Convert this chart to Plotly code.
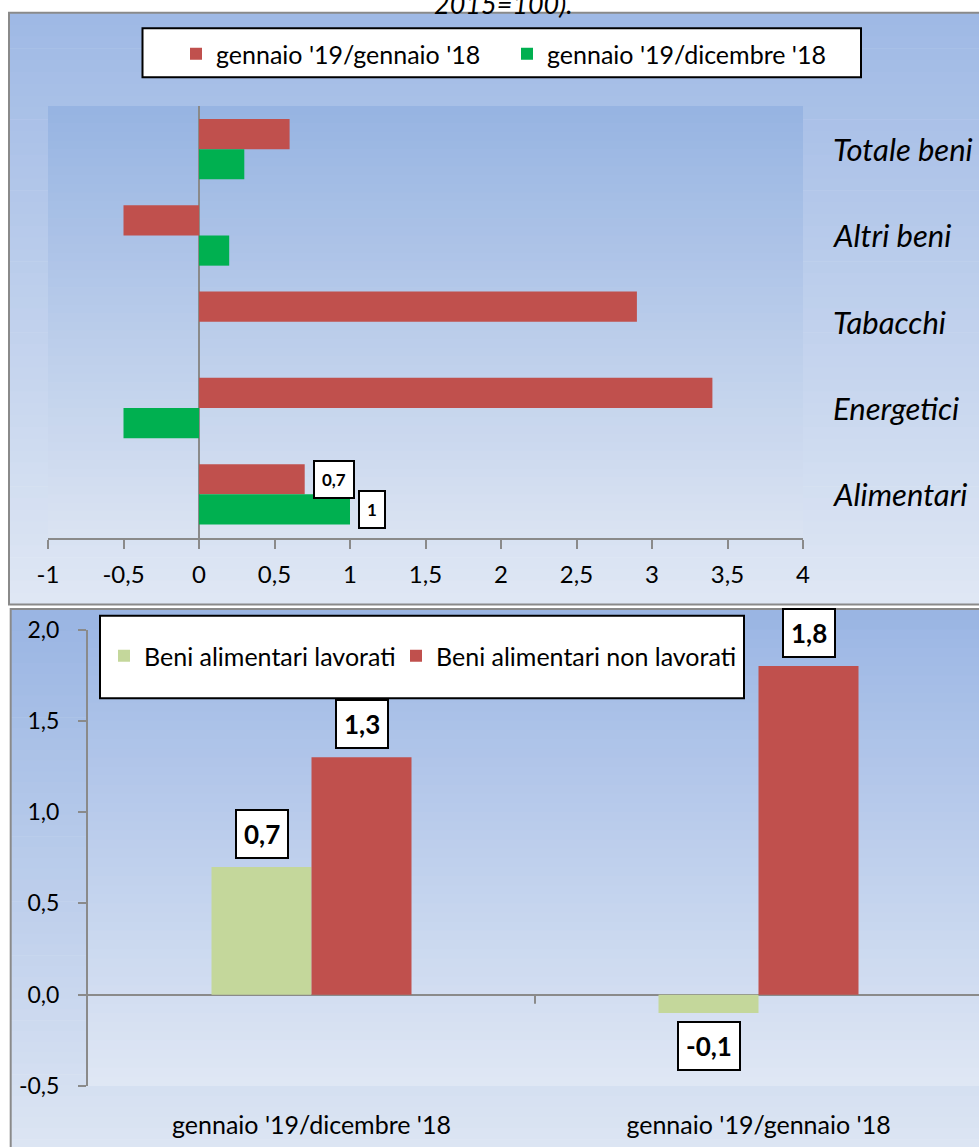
import plotly.graph_objects as go

W, H = 979, 1147
FONT = "Lato"

# ---------------- data ----------------
# Top chart (horizontal bars)
top_categories = ["Totale beni", "Altri beni", "Tabacchi", "Energetici", "Alimentari"]
yoy_values = [0.6, -0.5, 2.9, 3.4, 0.7]      # gennaio '19/gennaio '18
mom_values = [0.3, 0.2, 0.0, -0.5, 1.0]      # gennaio '19/dicembre '18
top_series_names = ["gennaio '19/gennaio '18", "gennaio '19/dicembre '18"]
top_labelled_categories = ["Alimentari"]
top_x_tickvals = [-1, -0.5, 0, 0.5, 1, 1.5, 2, 2.5, 3, 3.5, 4]
top_x_ticktext = ["-1", "-0,5", "0", "0,5", "1", "1,5", "2", "2,5", "3", "3,5", "4"]

# Bottom chart (vertical bars)
bottom_categories = ["gennaio '19/dicembre '18", "gennaio '19/gennaio '18"]
lavorati_values = [0.7, -0.1]
non_lavorati_values = [1.3, 1.8]
bottom_series_names = ["Beni alimentari lavorati", "Beni alimentari non lavorati"]
bottom_y_tickvals = [-0.5, 0.0, 0.5, 1.0, 1.5, 2.0]
bottom_y_ticktext = ["-0,5", "0,0", "0,5", "1,0", "1,5", "2,0"]

title_fragment = "2015=100)."

# ---------------- styles ----------------
RED = "#C0504D"
GREEN = "#00B050"
LIGHT_GREEN = "#C4D79B"
AXIS_GRAY = "#8A8A8A"


def fx(x):
    return x / W


def fy(y):
    return 1 - y / H


def hex2rgb(h):
    h = h.lstrip("#")
    return [int(h[i:i + 2], 16) for i in (0, 2, 4)]


def gradient(x0, x1, y0, y1, c_top, c_bot, n=50):
    a, b = hex2rgb(c_top), hex2rgb(c_bot)
    out = []
    for i in range(n):
        t = i / (n - 1)
        col = "rgb(%d,%d,%d)" % tuple(round(a[k] + (b[k] - a[k]) * t) for k in range(3))
        ya = y0 + (y1 - y0) * i / n
        yb = y0 + (y1 - y0) * (i + 1) / n + 0.6
        out.append(dict(type="rect", xref="paper", yref="paper",
                        x0=fx(x0), x1=fx(x1), y0=fy(min(yb, y1)), y1=fy(ya),
                        fillcolor=col, line_width=0, layer="below"))
    return out


def fmt(v):
    return ("%g" % v).replace(".", ",")


def legend_cfg(left_px, center_px):
    return dict(orientation="h", x=fx(left_px), y=fy(center_px), xanchor="left",
                yanchor="middle", bgcolor="rgba(0,0,0,0)", borderwidth=0,
                font=dict(family=FONT, size=25, color="black"))


fig = go.Figure()

# ---------------- top chart ----------------
fig.add_trace(go.Bar(y=top_categories, x=yoy_values, orientation="h", name=top_series_names[0],
                     marker=dict(color=RED, line_width=0), xaxis="x", yaxis="y", legend="legend"))
fig.add_trace(go.Bar(y=top_categories, x=mom_values, orientation="h", name=top_series_names[1],
                     marker=dict(color=GREEN, line_width=0), xaxis="x", yaxis="y", legend="legend2"))

# ---------------- bottom chart ----------------
BW = 100 / 447.0
fig.add_trace(go.Bar(x=bottom_categories, y=lavorati_values, name=bottom_series_names[0],
                     marker=dict(color=LIGHT_GREEN, line_width=0), width=BW, offset=-BW,
                     xaxis="x2", yaxis="y2", legend="legend3"))
fig.add_trace(go.Bar(x=bottom_categories, y=non_lavorati_values, name=bottom_series_names[1],
                     marker=dict(color=RED, line_width=0), width=BW, offset=0,
                     xaxis="x2", yaxis="y2", legend="legend4"))

shapes = []
# top panel background
shapes += gradient(9, 990, 12.7, 604.5, "#9FB9E5", "#DFE7F4")
shapes += gradient(48, 803, 106, 537.5, "#97B4E2", "#DAE3F2")
shapes.append(dict(type="rect", xref="paper", yref="paper", x0=fx(9), x1=fx(990),
                   y0=fy(604.5), y1=fy(12.7), line=dict(color=AXIS_GRAY, width=2),
                   fillcolor="rgba(0,0,0,0)", layer="below"))
# bottom panel background
shapes += gradient(10.7, 990, 609, 1150, "#9AB5E3", "#DCE5F3")
shapes += gradient(88, 990, 629.5, 1086, "#9EB8E5", "#DFE7F4")
shapes.append(dict(type="rect", xref="paper", yref="paper", x0=fx(10.7), x1=fx(990),
                   y0=fy(1160), y1=fy(609), line=dict(color=AXIS_GRAY, width=2),
                   fillcolor="rgba(0,0,0,0)", layer="below"))
# legend boxes
shapes.append(dict(type="rect", xref="paper", yref="paper", x0=fx(142.5), x1=fx(861),
                   y0=fy(77.3), y1=fy(28.3), line=dict(color="black", width=2),
                   fillcolor="white", layer="below"))
shapes.append(dict(type="rect", xref="paper", yref="paper", x0=fx(100), x1=fx(744),
                   y0=fy(698.3), y1=fy(615.7), line=dict(color="black", width=2),
                   fillcolor="white", layer="below"))
# category boundary tick on the bottom zero line
shapes.append(dict(type="line", xref="x2", yref="y2", x0=0.5, x1=0.5, ysizemode="pixel",
                   yanchor=0, y0=0, y1=-9, line=dict(color=AXIS_GRAY, width=2)))

annotations = []
# title fragment (cut at the top, as in the original page)
annotations.append(dict(text=title_fragment, xref="paper", yref="paper", x=fx(503), y=fy(3.5),
                        xanchor="center", yanchor="middle", showarrow=False,
                        font=dict(family=FONT, size=27, style="italic", color="black")))
# category labels of the top chart (right side)
for c in top_categories:
    annotations.append(dict(text=c, xref="paper", yref="y", x=fx(831), y=c, xanchor="left",
                            yanchor="middle", showarrow=False,
                            font=dict(family=FONT, size=31, style="italic", color="black")))
# data labels of the top chart
half = (1 - 0.3) / 4.0
for i, c in enumerate(top_categories):
    if c in top_labelled_categories:
        for v, off in ((yoy_values[i], -half), (mom_values[i], half)):
            annotations.append(dict(text=fmt(v), xref="x", yref="y", x=v, y=i + off,
                                    xanchor="left", yanchor="middle", xshift=8, showarrow=False,
                                    bgcolor="white", bordercolor="black", borderwidth=2,
                                    borderpad=7,
                                    font=dict(family=FONT, size=17, weight="bold", color="black")))
# data labels of the bottom chart
for i, c in enumerate(bottom_categories):
    for v, off in ((lavorati_values[i], -BW / 2), (non_lavorati_values[i], BW / 2)):
        annotations.append(dict(text=fmt(v), xref="x2", yref="y2", x=i + off, y=v,
                                xanchor="center", yanchor="bottom" if v >= 0 else "top",
                                yshift=8 if v >= 0 else -8, showarrow=False,
                                bgcolor="white", bordercolor="black", borderwidth=2,
                                borderpad=7,
                                font=dict(family=FONT, size=26, weight="bold", color="black")))

fig.update_layout(
    width=W, height=H, autosize=False,
    margin=dict(l=0, r=0, t=0, b=0, pad=0, autoexpand=False),
    paper_bgcolor="white", plot_bgcolor="rgba(0,0,0,0)",
    barmode="group", bargap=0.3, bargroupgap=0,
    font=dict(family=FONT, color="black"),
    showlegend=True,
    shapes=shapes, annotations=annotations,
    xaxis=dict(domain=[fx(48), fx(803)], anchor="y", range=[-1, 4],
               tickvals=top_x_tickvals, ticktext=top_x_ticktext,
               showline=True, linecolor=AXIS_GRAY, linewidth=2,
               ticks="outside", ticklen=9, tickwidth=2, tickcolor=AXIS_GRAY,
               ticklabelstandoff=6, automargin=False,
               showgrid=False, zeroline=True, zerolinecolor=AXIS_GRAY, zerolinewidth=2,
               tickfont=dict(family=FONT, size=24, color="black"), fixedrange=True),
    yaxis=dict(domain=[fy(537.5), fy(106)], anchor="x", type="category",
               categoryorder="array", categoryarray=top_categories,
               autorange="reversed", showticklabels=False, ticks="", automargin=False,
               showline=False, showgrid=False, zeroline=False, fixedrange=True),
    xaxis2=dict(domain=[fx(88), 1.0], anchor="y2", type="category",
                range=[-0.5, -0.5 + 891 / 447.0],
                showline=False, ticks="", showgrid=False, zeroline=False,
                ticklabelstandoff=22, automargin=False,
                tickfont=dict(family=FONT, size=25, color="black"), fixedrange=True),
    yaxis2=dict(domain=[fy(1086), fy(629.5)], anchor="x2", range=[-0.5, 2.0],
                tickvals=bottom_y_tickvals, ticktext=bottom_y_ticktext,
                showline=True, linecolor=AXIS_GRAY, linewidth=2,
                ticks="outside", ticklen=8, tickwidth=2, tickcolor=AXIS_GRAY,
                ticklabelstandoff=14, automargin=False,
                showgrid=False, zeroline=True, zerolinecolor=AXIS_GRAY, zerolinewidth=2,
                tickfont=dict(family=FONT, size=23, color="black"), fixedrange=True),
    legend=legend_cfg(176, 54),
    legend2=legend_cfg(507, 54),
    legend3=legend_cfg(104, 656),
    legend4=legend_cfg(396, 656),
)

fig.write_html("out.html")
